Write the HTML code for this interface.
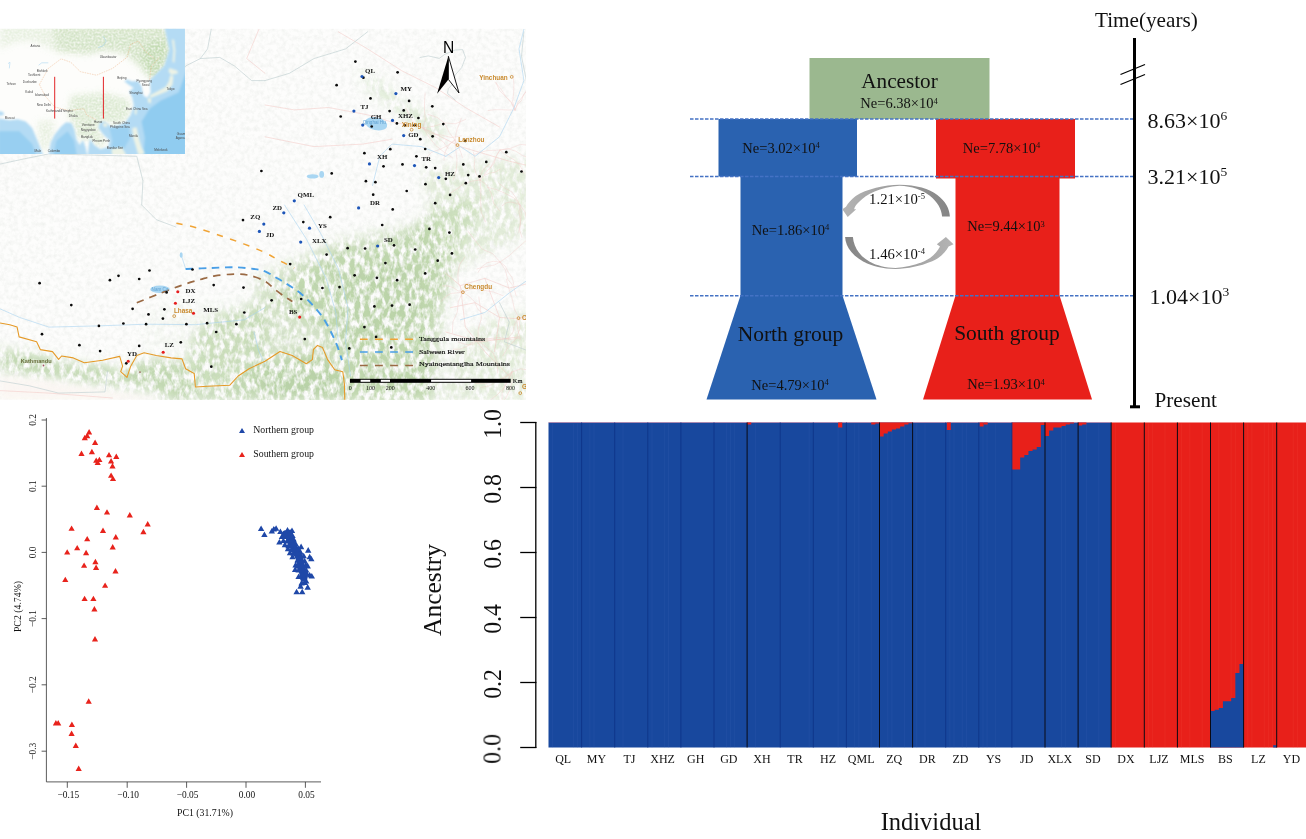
<!DOCTYPE html>
<html lang="en"><head><meta charset="utf-8"><title>Population structure figure</title>
<style>
html,body{margin:0;padding:0;background:#fff;}
body{width:1306px;height:839px;overflow:hidden;font-family:"Liberation Serif",serif;}
svg{display:block}
text{font-family:"Liberation Serif",serif;fill:#111;}
.sans{font-family:"Liberation Sans",sans-serif;}
</style></head><body>
<svg width="1306" height="839" viewBox="0 0 1306 839">
<rect width="1306" height="839" fill="#ffffff"/>
<!-- ===== sampling map ===== -->
<defs>
<filter id="b6" x="-20%" y="-20%" width="140%" height="140%"><feGaussianBlur stdDeviation="6"/></filter>
<filter id="b3" x="-20%" y="-20%" width="140%" height="140%"><feGaussianBlur stdDeviation="3"/></filter>
<filter id="b1" x="-20%" y="-20%" width="140%" height="140%"><feGaussianBlur stdDeviation="1.2"/></filter>
<filter id="mottle" x="0" y="0" width="100%" height="100%">
  <feTurbulence type="fractalNoise" baseFrequency="0.2 0.11" numOctaves="3" seed="7" result="n"/>
  <feColorMatrix in="n" type="matrix" values="0 0 0 0 1  0 0 0 0 1  0 0 0 0 1  3.4 0 0 0 -1.3" result="w"/>
  <feComposite in="SourceGraphic" in2="w" operator="out"/>
</filter>
<filter id="mottle2" x="0" y="0" width="100%" height="100%">
  <feTurbulence type="fractalNoise" baseFrequency="0.5" numOctaves="2" seed="11" result="n"/>
  <feColorMatrix in="n" type="matrix" values="0 0 0 0 1  0 0 0 0 1  0 0 0 0 1  1.6 0 0 0 -0.55" result="w"/>
  <feComposite in="SourceGraphic" in2="w" operator="out"/>
</filter>
<filter id="grain" x="0" y="0" width="100%" height="100%">
  <feTurbulence type="fractalNoise" baseFrequency="0.22" numOctaves="4" seed="3" result="n"/>
  <feColorMatrix in="n" type="matrix" values="0 0 0 0 0.45  0 0 0 0 0.5  0 0 0 0 0.45  0 0 0 1.1 -0.42"/>
</filter>
<clipPath id="mapclip"><rect x="0" y="28.8" width="526" height="371"/></clipPath>
<clipPath id="insclip"><rect x="0" y="28.8" width="185" height="125.2"/></clipPath>
</defs>
<g id="map" clip-path="url(#mapclip)">
<rect x="0" y="28.8" width="526" height="371" fill="#fdfdfc"/>
<g filter="url(#mottle)">
<g filter="url(#b6)" fill="#b9d4a6">
<polygon opacity="0.85" points="0.0,349.1 19.5,351.6 39.1,354.0 58.6,361.3 83.0,365.0 105.0,363.8 122.1,373.5 136.8,361.3 156.3,358.9 180.8,361.3 195.4,376.0 195.4,390.6 219.8,388.2 239.4,378.4 265.0,363.8 265.0,363.8 294.3,354.0 313.9,351.6 328.5,351.6 345.6,376.0 345.6,400.4 265.0,400.4 265.0,400.4 171.0,400.4 146.6,390.6 109.9,385.8 73.3,380.9 36.6,376.0 0.0,371.1"/>
<polygon opacity="0.8" points="285.0,285.0 314.0,263.0 345.0,247.0 383.0,243.0 410.0,232.0 425.0,215.0 440.0,205.0 481.0,200.0 470.0,228.0 458.0,255.0 447.0,285.0 437.0,315.0 431.0,340.0 430.0,402.0 345.0,402.0 340.0,360.0 325.0,330.0 302.0,318.0 280.0,310.0"/>
<polygon opacity="0.55" points="255.2,278.3 289.4,261.2 338.3,239.2 436.0,219.7 460.4,241.6 445.8,307.6 436.0,400.4 255.2,400.4"/>
<polygon opacity="0.75" points="195.4,332.0 214.9,314.9 244.3,307.6 265.0,302.7 265.0,371.1 244.3,376.0 229.6,385.8 195.4,387.0 193.0,373.5 185.6,361.3"/>
<polygon opacity="0.55" points="345.6,278.3 392.0,261.2 421.3,268.5 421.3,307.6 401.8,341.8 367.6,366.2 352.9,332.0"/>
<polygon opacity="0.7" points="265.0,361.3 345.6,376.0 345.6,400.4 265.0,400.4"/>
</g>
<g filter="url(#b6)" fill="#cfe2c0">
<polygon opacity="0.55" points="421.3,171.0 450.6,166.1 530.0,156.3 530.0,204.9 436.0,204.9 436.0,205.0 530.0,205.0 530.0,234.3 484.8,253.9 455.5,268.5 440.9,253.9"/>
<polygon opacity="0.7" points="357.8,68.4 379.8,80.6 401.8,102.6 431.1,114.8 445.8,131.9 436.0,146.6 416.4,127.0 392.0,107.5 367.6,87.9"/>
<polygon opacity="0.55" points="479.9,322.2 530.0,310.0 530.0,400.4 436.0,400.4 455.5,351.6"/>
<polygon opacity="0.12" points="151.4,307.6 265.0,297.8 265.0,361.3 219.8,380.9 185.6,351.6 146.6,351.6"/>
</g>
</g>
<rect x="0" y="28.8" width="526" height="371" filter="url(#grain)" opacity="0.28"/>
<polygon filter="url(#b3)" fill="#fbf6f2" opacity="0.9" points="0.0,376.0 48.9,380.9 102.6,390.6 156.3,398.0 156.3,400.4 0.0,400.4"/>
<g fill="none" stroke-linecap="round" stroke-linejoin="round">
<g stroke="#f3c9c6" stroke-width="0.6" opacity="0.9">
<polyline points="265.0,105.0 294.3,109.9 328.5,107.5 367.6,114.8 392.0,122.1 421.3,127.0 460.4,146.6 509.3,161.2 530.0,166.1"/>
<polyline points="338.3,31.8 367.6,48.9 401.8,70.8 436.0,87.9 465.3,107.5 499.5,127.0"/>
<polyline points="265.0,136.8 313.9,146.6 362.7,144.1 392.0,139.2"/>
<polyline points="445.8,273.4 460.4,285.6 484.8,278.3 509.3,288.0 530.0,283.2"/>
<polyline points="450.6,307.6 475.1,302.7 499.5,317.4 530.0,319.8"/>
<polyline points="460.4,285.6 465.3,327.1 484.8,351.6 509.3,376.0"/>
<polyline points="484.8,278.3 499.5,317.4 494.6,351.6"/>
<polyline points="445.8,332.0 479.9,341.8 519.0,336.9"/>
<polyline points="0.0,390.6 48.9,393.1 112.4,398.0"/>
<polyline points="258.9,29.3 246.7,58.6 265.0,73.3"/>
<polyline opacity="0.8" stroke-width="0.5" points="463.0,292.0 458.4,283.7 457.8,274.2 459.5,264.8 464.9,257.0"/>
<polyline opacity="0.8" stroke-width="0.5" points="463.0,292.0 469.2,296.5 474.7,301.8 477.6,308.9 483.0,314.3"/>
<polyline opacity="0.8" stroke-width="0.5" points="463.0,292.0 456.9,292.9 450.8,293.4 445.5,296.7 441.5,301.3"/>
<polyline opacity="0.8" stroke-width="0.5" points="463.0,292.0 458.3,301.6 457.2,312.2 452.9,322.0 452.4,332.7"/>
<polyline opacity="0.8" stroke-width="0.5" points="463.0,292.0 457.8,290.7 453.4,287.7 448.3,286.0 443.0,285.8"/>
<polyline opacity="0.8" stroke-width="0.5" points="463.0,292.0 472.9,288.7 483.1,290.2 493.4,292.0 503.1,295.7"/>
<polyline opacity="0.8" stroke-width="0.5" points="519.0,318.0 520.0,328.8 516.1,338.9 508.5,346.7 502.7,355.9"/>
<polyline opacity="0.8" stroke-width="0.5" points="519.0,318.0 517.1,323.3 517.6,328.9 519.2,334.3 520.3,339.8"/>
<polyline opacity="0.8" stroke-width="0.5" points="519.0,318.0 528.0,316.7 536.6,313.8 545.6,313.7 554.7,313.4"/>
<polyline opacity="0.8" stroke-width="0.5" points="519.0,318.0 514.5,324.3 513.2,331.9 508.5,338.1 507.1,345.7"/>
<polyline opacity="0.8" stroke-width="0.5" points="519.0,318.0 514.3,309.0 512.3,299.0 509.0,289.3 506.4,279.4"/>
<polyline opacity="0.8" stroke-width="0.5" points="519.0,318.0 523.7,316.8 528.4,317.7 533.2,317.1 537.9,317.8"/>
<polyline opacity="0.8" stroke-width="0.5" points="500.0,262.0 509.0,255.9 517.0,248.5 525.2,241.4 535.0,236.8"/>
<polyline opacity="0.8" stroke-width="0.5" points="500.0,262.0 505.4,269.9 507.6,279.2 513.7,286.5 516.1,295.8"/>
<polyline opacity="0.8" stroke-width="0.5" points="500.0,262.0 505.3,266.3 508.3,272.4 512.3,277.9 513.7,284.5"/>
<polyline opacity="0.8" stroke-width="0.5" points="500.0,262.0 493.4,261.3 487.0,262.8 481.7,266.8 478.1,272.3"/>
<polyline opacity="0.8" stroke-width="0.5" points="500.0,262.0 492.6,253.6 482.2,249.2 475.1,240.5 468.3,231.6"/>
<polyline opacity="0.8" stroke-width="0.5" points="500.0,262.0 494.6,264.9 488.6,266.0 482.7,267.3 476.8,269.0"/>
<polyline opacity="0.8" stroke-width="0.5" points="478.0,340.0 488.6,338.8 499.2,337.4 509.7,339.7 520.2,338.1"/>
<polyline opacity="0.8" stroke-width="0.5" points="478.0,340.0 478.2,329.1 481.4,318.7 480.4,307.8 478.8,297.0"/>
<polyline opacity="0.8" stroke-width="0.5" points="478.0,340.0 485.6,346.8 493.5,353.3 497.3,362.7 497.7,372.9"/>
<polyline opacity="0.8" stroke-width="0.5" points="478.0,340.0 485.5,338.8 493.0,339.3 500.6,339.6 508.0,338.4"/>
<polyline opacity="0.8" stroke-width="0.5" points="478.0,340.0 473.9,343.7 468.6,345.0 463.2,343.7 458.1,341.9"/>
<polyline opacity="0.8" stroke-width="0.5" points="478.0,340.0 471.8,342.7 466.4,346.8 460.0,349.2 453.2,349.2"/>
<polyline opacity="0.8" stroke-width="0.5" points="512.0,372.0 503.9,377.5 494.9,381.3 485.3,383.7 475.5,383.4"/>
<polyline opacity="0.8" stroke-width="0.5" points="512.0,372.0 507.6,380.2 503.3,388.4 497.0,395.1 489.6,400.6"/>
<polyline opacity="0.8" stroke-width="0.5" points="512.0,372.0 507.5,381.9 502.2,391.4 502.0,402.3 501.3,413.2"/>
<polyline opacity="0.8" stroke-width="0.5" points="512.0,372.0 512.3,381.0 509.8,389.7 506.0,397.9 500.0,404.6"/>
<polyline opacity="0.8" stroke-width="0.5" points="512.0,372.0 505.3,377.8 497.2,381.2 489.6,385.7 480.9,387.5"/>
<polyline opacity="0.8" stroke-width="0.5" points="512.0,372.0 520.6,368.9 529.7,370.0 538.8,371.2 547.8,372.7"/>
<polyline opacity="0.8" stroke-width="0.5" points="455.0,140.0 455.9,150.1 457.0,160.2 456.2,170.3 453.2,180.0"/>
<polyline opacity="0.8" stroke-width="0.5" points="455.0,140.0 455.9,134.4 457.2,128.9 459.4,123.7 461.2,118.3"/>
<polyline opacity="0.8" stroke-width="0.5" points="455.0,140.0 449.1,132.3 445.0,123.5 437.3,117.5 428.1,114.4"/>
<polyline opacity="0.8" stroke-width="0.5" points="455.0,140.0 447.9,145.4 440.0,149.4 431.6,152.3 425.4,158.6"/>
<polyline opacity="0.8" stroke-width="0.5" points="455.0,140.0 450.1,143.5 446.8,148.6 444.5,154.1 444.0,160.1"/>
<polyline opacity="0.8" stroke-width="0.5" points="455.0,140.0 456.8,144.4 459.1,148.5 461.0,152.9 462.4,157.4"/>
<polyline opacity="0.8" stroke-width="0.5" points="423.0,128.0 428.8,136.9 435.4,145.2 443.6,151.8 452.4,157.7"/>
<polyline opacity="0.8" stroke-width="0.5" points="423.0,128.0 431.4,133.7 441.4,135.0 451.2,137.5 461.2,135.9"/>
<polyline opacity="0.8" stroke-width="0.5" points="423.0,128.0 416.7,125.6 412.0,120.6 409.2,114.4 405.9,108.5"/>
<polyline opacity="0.8" stroke-width="0.5" points="423.0,128.0 425.3,119.5 424.5,110.7 424.5,101.8 425.1,93.0"/>
<polyline opacity="0.8" stroke-width="0.5" points="423.0,128.0 433.9,126.2 444.4,122.9 455.4,123.8 465.5,119.4"/>
<polyline opacity="0.8" stroke-width="0.5" points="423.0,128.0 428.8,133.9 436.4,137.4 443.4,141.9 448.2,148.7"/>
<polyline opacity="0.8" stroke-width="0.5" points="500.0,150.0 496.3,156.4 494.1,163.5 488.9,168.8 484.3,174.6"/>
<polyline opacity="0.8" stroke-width="0.5" points="500.0,150.0 510.6,148.4 520.4,144.4 531.0,145.4 541.7,146.3"/>
<polyline opacity="0.8" stroke-width="0.5" points="500.0,150.0 493.4,150.3 486.7,150.7 480.3,152.4 473.9,154.4"/>
<polyline opacity="0.8" stroke-width="0.5" points="500.0,150.0 506.6,155.7 514.2,159.9 520.4,166.0 524.2,173.8"/>
<polyline opacity="0.8" stroke-width="0.5" points="500.0,150.0 508.0,148.8 515.8,151.2 522.6,155.6 530.2,158.1"/>
<polyline opacity="0.8" stroke-width="0.5" points="500.0,150.0 496.9,154.6 494.7,159.7 492.1,164.6 489.5,169.5"/>
<polyline opacity="0.8" stroke-width="0.5" points="515.0,110.0 511.5,102.2 505.4,96.2 501.0,88.8 495.2,82.5"/>
<polyline opacity="0.8" stroke-width="0.5" points="515.0,110.0 508.2,110.0 501.5,109.7 494.7,109.7 488.0,110.6"/>
<polyline opacity="0.8" stroke-width="0.5" points="515.0,110.0 511.0,102.5 505.2,96.3 499.2,90.3 496.1,82.4"/>
<polyline opacity="0.8" stroke-width="0.5" points="515.0,110.0 518.0,102.4 523.1,95.9 527.6,89.1 532.6,82.7"/>
<polyline opacity="0.8" stroke-width="0.5" points="515.0,110.0 512.6,101.6 513.7,92.9 513.9,84.1 513.1,75.4"/>
<polyline opacity="0.8" stroke-width="0.5" points="515.0,110.0 517.5,104.7 521.5,100.5 523.4,95.0 527.0,90.4"/>
<polyline opacity="0.8" stroke-width="0.5" points="480.0,180.0 476.0,173.7 474.0,166.6 475.0,159.2 473.3,152.0"/>
<polyline opacity="0.8" stroke-width="0.5" points="480.0,180.0 471.9,181.1 464.0,183.6 457.5,188.6 450.6,193.0"/>
<polyline opacity="0.8" stroke-width="0.5" points="480.0,180.0 480.6,175.1 482.7,170.6 486.0,166.9 489.9,163.8"/>
<polyline opacity="0.8" stroke-width="0.5" points="480.0,180.0 487.5,185.6 491.5,194.1 493.6,203.2 499.5,210.5"/>
<polyline opacity="0.8" stroke-width="0.5" points="480.0,180.0 484.0,175.5 489.5,173.2 495.4,172.1 500.5,169.0"/>
<polyline opacity="0.8" stroke-width="0.5" points="480.0,180.0 480.9,190.7 480.6,201.4 481.2,212.0 485.4,221.9"/>
<polyline opacity="0.8" stroke-width="0.5" points="520.0,205.0 515.5,203.2 510.9,202.0 506.2,202.8 502.3,205.6"/>
<polyline opacity="0.8" stroke-width="0.5" points="520.0,205.0 513.7,197.8 505.3,193.4 496.6,189.6 487.4,187.4"/>
<polyline opacity="0.8" stroke-width="0.5" points="520.0,205.0 516.2,198.2 511.7,191.8 504.8,188.1 498.8,183.1"/>
<polyline opacity="0.8" stroke-width="0.5" points="520.0,205.0 525.1,212.2 526.8,220.7 528.2,229.4 528.4,238.2"/>
<polyline opacity="0.8" stroke-width="0.5" points="520.0,205.0 521.3,213.1 520.6,221.3 519.7,229.5 521.9,237.4"/>
<polyline opacity="0.8" stroke-width="0.5" points="520.0,205.0 519.0,211.9 520.3,218.8 520.1,225.8 518.8,232.7"/>
</g>
<g stroke="#bfcfd0" stroke-width="0.7" opacity="0.9">
<polyline points="211.3,28.8 207.6,48.9 200.3,58.6 185.6,66.0 180.8,73.3"/>
<polyline points="200.3,58.6 219.8,57.4 234.5,66.0 251.6,80.6 265.0,80.6"/>
<polyline points="0.0,164.1 24.4,158.8 48.9,153.9 136.8,156.3 142.9,180.8 141.7,204.9"/>
<polyline points="141.7,205.0 156.3,219.7 175.9,227.0"/>
<polyline points="265.0,80.6 289.4,73.3 313.9,58.6 345.6,48.9 367.6,31.8"/>
<polyline points="420.0,57.5 428.3,55.9 439.2,58.4 445.0,54.2 455.1,50.0 462.6,49.6 465.5,57.5 461.7,67.6 455.1,75.1 453.4,83.4 448.4,88.4 447.5,93.4 455.1,100.0"/>
<polyline points="523.9,31.8 521.5,56.2 526.4,80.6"/>
<polyline points="0.0,380.9 29.3,385.8 58.6,393.1 105.0,391.9 107.5,371.1"/>
<polyline points="499.5,302.7 509.3,322.2 504.4,341.8 530.0,351.6"/>
</g>
<g stroke="#a9d3f0" stroke-width="0.8">
<polyline opacity="0.75" points="523.9,29.3 519.0,48.9 523.9,80.6 514.1,107.5 499.5,136.8 475.1,156.3 460.4,146.6 445.8,156.3"/>
<polyline opacity="0.75" points="445.8,156.3 421.3,146.6 392.0,144.1 379.8,156.3 372.5,185.6"/>
<polyline opacity="0.75" points="0.0,308.8 19.5,317.4 48.9,327.1 97.7,325.9 146.6,324.2 195.4,324.7 244.3,319.8 265.0,307.6"/>
<polyline opacity="0.75" points="304.1,205.0 321.2,234.3 338.3,268.5 348.0,307.6 345.6,341.8 350.5,376.0"/>
<polyline opacity="0.75" points="284.5,205.0 306.5,239.2 326.1,278.3 335.8,312.5 338.3,341.8"/>
<polyline opacity="0.75" points="180.8,253.9 185.6,268.5"/>
<polyline opacity="0.75" points="530.0,278.3 509.3,292.9 484.8,312.5 460.4,319.8"/>
<polyline opacity="0.75" points="254.0,332.0 258.9,351.6 265.0,363.8"/>
</g>
</g>
<ellipse cx="376.1" cy="123.8" rx="11.2" ry="6.4" fill="#a9d6f2" transform="rotate(12 376.1 123.8)"/>
<ellipse cx="312.6" cy="176.4" rx="5.9" ry="2.2" fill="#a9d6f2"/>
<ellipse cx="321.7" cy="174.4" rx="2.4" ry="3.4" fill="#a9d6f2"/>
<ellipse cx="160.0" cy="289.3" rx="9.8" ry="3.7" fill="#a9d6f2"/>
<ellipse cx="181.2" cy="255.1" rx="1.5" ry="2.9" fill="#a9d6f2"/>
<polyline fill="none" stroke="#e59a28" stroke-width="1.1" stroke-linejoin="round" points="0.0,323.0 9.8,324.7 17.1,327.1 19.1,336.9 36.6,341.8 40.3,349.6 52.5,351.6 58.6,359.4 61.6,356.0 73.3,357.9 84.3,362.8 102.6,360.3 119.7,356.4 122.6,366.2 120.7,371.6 127.0,377.4 130.7,366.2 136.8,355.5 144.1,352.8 156.3,355.5 171.0,357.9 182.0,358.9 185.6,368.7 194.2,373.5 195.4,387.0 207.6,386.2 229.6,385.3 238.2,376.0 249.1,368.7 265.0,361.3 280.0,351.5 292.2,355.6 306.3,363.7 312.4,359.6 313.4,349.5 317.5,345.4 322.5,347.5 327.6,359.6 334.7,369.7 342.8,371.8 344.4,383.9 344.8,401.0"/>
<path d="M176.4,223.3C179.5,224.0 188.2,225.4 195.4,227.5C202.7,229.5 211.7,232.8 219.8,235.5C228.0,238.3 236.7,241.2 244.3,244.1C251.8,246.9 259.1,249.9 265.0,252.6C270.9,255.4 274.8,258.1 279.7,260.7C284.5,263.3 291.9,266.8 294.3,268.0" fill="none" stroke="#f0a436" stroke-width="1.5" stroke-dasharray="6.4 7.6"/>
<path d="M185.6,269.0C189.7,268.8 201.9,268.3 210.1,268.0C218.2,267.7 227.2,267.1 234.5,267.3C241.8,267.4 248.9,268.3 254.0,269.0C259.1,269.7 261.2,269.9 265.0,271.4C268.9,273.0 273.1,275.9 277.2,278.3C281.3,280.6 285.4,283.0 289.4,285.6C293.5,288.3 297.6,290.7 301.6,294.2C305.7,297.6 310.2,302.3 313.9,306.4C317.5,310.4 320.8,314.3 323.6,318.6C326.5,322.9 328.7,327.5 331.0,332.0C333.2,336.5 335.2,340.8 337.1,345.4C338.9,350.1 341.1,357.7 341.9,360.1" fill="none" stroke="#4a9fe6" stroke-width="1.9" stroke-dasharray="7.5 5.6"/>
<path d="M136.8,302.7C140.0,301.4 149.0,297.7 156.3,294.9C163.7,292.0 173.4,288.2 180.8,285.6C188.1,283.0 194.6,281.1 200.3,279.5C206.0,277.9 209.2,276.7 214.9,275.8C220.6,274.9 228.8,274.2 234.5,274.1C240.2,274.0 244.1,274.2 249.1,275.3C254.2,276.5 260.8,278.9 265.0,281.2C269.3,283.5 271.5,286.7 274.8,289.3C278.0,291.8 281.6,294.6 284.5,296.6C287.5,298.6 291.1,300.7 292.4,301.5" fill="none" stroke="#9a6a44" stroke-width="1.7" stroke-dasharray="7.5 6"/>
<g fill="#0a0a0a"><circle cx="261.4" cy="171.0" r="1.35"/><circle cx="355.4" cy="61.6" r="1.35"/><circle cx="397.6" cy="72.3" r="1.35"/><circle cx="336.6" cy="85.2" r="1.35"/><circle cx="363.4" cy="77.7" r="1.35"/><circle cx="370.5" cy="98.4" r="1.35"/><circle cx="409.1" cy="100.9" r="1.35"/><circle cx="432.3" cy="106.3" r="1.35"/><circle cx="389.6" cy="111.1" r="1.35"/><circle cx="403.7" cy="110.4" r="1.35"/><circle cx="340.7" cy="116.5" r="1.35"/><circle cx="418.4" cy="118.0" r="1.35"/><circle cx="396.9" cy="123.4" r="1.35"/><circle cx="443.3" cy="124.1" r="1.35"/><circle cx="371.7" cy="126.5" r="1.35"/><circle cx="404.7" cy="125.3" r="1.35"/><circle cx="414.5" cy="125.3" r="1.35"/><circle cx="420.3" cy="139.2" r="1.35"/><circle cx="432.6" cy="136.3" r="1.35"/><circle cx="465.3" cy="140.9" r="1.35"/><circle cx="390.3" cy="149.2" r="1.35"/><circle cx="425.2" cy="149.0" r="1.35"/><circle cx="364.4" cy="153.2" r="1.35"/><circle cx="416.4" cy="156.3" r="1.35"/><circle cx="506.3" cy="152.2" r="1.35"/><circle cx="486.3" cy="161.9" r="1.35"/><circle cx="383.5" cy="166.3" r="1.35"/><circle cx="402.5" cy="164.4" r="1.35"/><circle cx="426.2" cy="167.3" r="1.35"/><circle cx="435.2" cy="168.1" r="1.35"/><circle cx="463.3" cy="164.4" r="1.35"/><circle cx="331.7" cy="173.4" r="1.35"/><circle cx="468.2" cy="175.1" r="1.35"/><circle cx="479.5" cy="176.4" r="1.35"/><circle cx="521.5" cy="171.5" r="1.35"/><circle cx="445.8" cy="178.8" r="1.35"/><circle cx="365.9" cy="181.2" r="1.35"/><circle cx="375.4" cy="182.2" r="1.35"/><circle cx="465.8" cy="183.2" r="1.35"/><circle cx="425.5" cy="184.2" r="1.35"/><circle cx="406.7" cy="191.0" r="1.35"/><circle cx="373.2" cy="194.7" r="1.35"/><circle cx="450.1" cy="194.9" r="1.35"/><circle cx="435.2" cy="203.2" r="1.35"/><circle cx="39.6" cy="283.2" r="1.35"/><circle cx="71.3" cy="305.1" r="1.35"/><circle cx="109.9" cy="280.2" r="1.35"/><circle cx="118.5" cy="275.8" r="1.35"/><circle cx="139.2" cy="279.0" r="1.35"/><circle cx="149.5" cy="270.5" r="1.35"/><circle cx="192.5" cy="269.5" r="1.35"/><circle cx="213.7" cy="285.1" r="1.35"/><circle cx="243.5" cy="287.6" r="1.35"/><circle cx="243.0" cy="220.1" r="1.35"/><circle cx="132.6" cy="308.8" r="1.35"/><circle cx="148.5" cy="314.4" r="1.35"/><circle cx="164.4" cy="309.3" r="1.35"/><circle cx="162.9" cy="318.6" r="1.35"/><circle cx="98.9" cy="325.9" r="1.35"/><circle cx="123.4" cy="323.5" r="1.35"/><circle cx="146.1" cy="324.2" r="1.35"/><circle cx="186.4" cy="324.2" r="1.35"/><circle cx="207.1" cy="323.2" r="1.35"/><circle cx="236.4" cy="324.2" r="1.35"/><circle cx="244.3" cy="312.5" r="1.35"/><circle cx="216.2" cy="332.0" r="1.35"/><circle cx="42.0" cy="334.2" r="1.35"/><circle cx="79.4" cy="345.2" r="1.35"/><circle cx="100.1" cy="351.1" r="1.35"/><circle cx="139.2" cy="345.9" r="1.35"/><circle cx="180.8" cy="342.3" r="1.35"/><circle cx="126.3" cy="363.3" r="1.35"/><circle cx="211.3" cy="366.7" r="1.35"/><circle cx="166.6" cy="292.4" r="1.35"/><circle cx="392.7" cy="209.4" r="1.35"/><circle cx="330.2" cy="217.2" r="1.35"/><circle cx="303.3" cy="222.1" r="1.35"/><circle cx="382.2" cy="225.0" r="1.35"/><circle cx="429.4" cy="228.9" r="1.35"/><circle cx="449.4" cy="232.6" r="1.35"/><circle cx="394.0" cy="245.3" r="1.35"/><circle cx="347.6" cy="248.2" r="1.35"/><circle cx="365.1" cy="248.5" r="1.35"/><circle cx="415.2" cy="249.5" r="1.35"/><circle cx="451.9" cy="253.4" r="1.35"/><circle cx="326.6" cy="254.6" r="1.35"/><circle cx="437.7" cy="260.7" r="1.35"/><circle cx="385.4" cy="263.1" r="1.35"/><circle cx="290.2" cy="264.1" r="1.35"/><circle cx="354.6" cy="275.3" r="1.35"/><circle cx="376.9" cy="277.8" r="1.35"/><circle cx="397.1" cy="280.2" r="1.35"/><circle cx="425.2" cy="273.4" r="1.35"/><circle cx="322.4" cy="288.0" r="1.35"/><circle cx="339.5" cy="287.1" r="1.35"/><circle cx="271.6" cy="300.3" r="1.35"/><circle cx="301.2" cy="299.0" r="1.35"/><circle cx="374.4" cy="306.4" r="1.35"/><circle cx="392.0" cy="305.6" r="1.35"/><circle cx="409.6" cy="304.7" r="1.35"/><circle cx="364.4" cy="327.1" r="1.35"/><circle cx="376.1" cy="336.9" r="1.35"/><circle cx="304.8" cy="339.1" r="1.35"/><circle cx="349.3" cy="348.4" r="1.35"/><circle cx="391.3" cy="347.4" r="1.35"/></g>
<g fill="#1d55b8"><circle cx="362.0" cy="76.5" r="1.6"/><circle cx="395.9" cy="93.6" r="1.6"/><circle cx="353.9" cy="111.1" r="1.6"/><circle cx="362.7" cy="125.1" r="1.6"/><circle cx="392.5" cy="120.4" r="1.6"/><circle cx="403.7" cy="135.6" r="1.6"/><circle cx="369.5" cy="163.9" r="1.6"/><circle cx="414.5" cy="165.6" r="1.6"/><circle cx="438.7" cy="177.6" r="1.6"/><circle cx="294.3" cy="200.8" r="1.6"/><circle cx="283.8" cy="212.8" r="1.6"/><circle cx="309.5" cy="228.2" r="1.6"/><circle cx="300.7" cy="242.1" r="1.6"/><circle cx="377.6" cy="246.0" r="1.6"/><circle cx="358.6" cy="207.9" r="1.6"/><circle cx="259.4" cy="231.4" r="1.6"/><circle cx="263.8" cy="224.1" r="1.6"/></g>
<g fill="#e61e1e"><circle cx="177.8" cy="291.7" r="1.55"/><circle cx="175.4" cy="303.2" r="1.55"/><circle cx="193.5" cy="313.2" r="1.55"/><circle cx="163.2" cy="352.3" r="1.55"/><circle cx="128.2" cy="361.3" r="1.55"/><circle cx="299.7" cy="317.1" r="1.55"/></g>
<g font-size="6.9" text-anchor="middle" fill="#000" font-weight="bold">
<text x="370.0" y="72.8">QL</text>
<text x="406.2" y="90.9">MY</text>
<text x="364.4" y="108.9">TJ</text>
<text x="376.1" y="119.4">GH</text>
<text x="405.4" y="117.5">XHZ</text>
<text x="413.3" y="137.0">GD</text>
<text x="382.2" y="158.5">XH</text>
<text x="426.2" y="161.0">TR</text>
<text x="449.9" y="175.6">HZ</text>
<text x="305.8" y="196.9">QML</text>
<text x="374.9" y="204.7">DR</text>
<text x="190.5" y="293.2">DX</text>
<text x="188.8" y="302.9">LJZ</text>
<text x="210.6" y="311.7">MLS</text>
<text x="169.3" y="346.9">LZ</text>
<text x="131.9" y="356.2">YD</text>
<text x="255.3" y="219.4">ZQ</text>
<text x="322.4" y="228.0">YS</text>
<text x="319.2" y="243.1">XLX</text>
<text x="388.4" y="241.9">SD</text>
<text x="269.9" y="236.5">JD</text>
<text x="293.1" y="313.9">BS</text>
<text x="277.2" y="209.6">ZD</text>
</g>
<text class="sans" x="493.4" y="80.4" font-size="6.4" font-weight="bold" text-anchor="middle" style="fill:#c98a2e">Yinchuan</text><circle cx="511.7" cy="76.9" r="1.4" fill="none" stroke="#c98a2e" stroke-width="0.8"/>
<text class="sans" x="411.6" y="126.5" font-size="6.4" font-weight="bold" text-anchor="middle" style="fill:#c98a2e">Xining</text><circle cx="411.6" cy="129.7" r="1.4" fill="none" stroke="#c98a2e" stroke-width="0.8"/>
<text class="sans" x="471.4" y="141.9" font-size="6.4" font-weight="bold" text-anchor="middle" style="fill:#c98a2e">Lanzhou</text><circle cx="457.5" cy="145.1" r="1.4" fill="none" stroke="#c98a2e" stroke-width="0.8"/>
<text class="sans" x="478.2" y="288.8" font-size="6.4" font-weight="bold" text-anchor="middle" style="fill:#c98a2e">Chengdu</text><circle cx="462.9" cy="292.2" r="1.4" fill="none" stroke="#c98a2e" stroke-width="0.8"/>
<text class="sans" x="183.2" y="312.7" font-size="6.4" font-weight="bold" text-anchor="middle" style="fill:#c98a2e">Lhasa</text><circle cx="174.2" cy="316.1" r="1.4" fill="none" stroke="#c98a2e" stroke-width="0.8"/>
<text class="sans" x="524.4" y="320.3" font-size="6.4" font-weight="bold" text-anchor="middle" style="fill:#c98a2e">C</text><circle cx="518.5" cy="318.1" r="1.4" fill="none" stroke="#c98a2e" stroke-width="0.8"/>
<text class="sans" x="524.4" y="388.7" font-size="6.4" font-weight="bold" text-anchor="middle" style="fill:#c98a2e">G</text><circle cx="520.3" cy="393.1" r="1.4" fill="none" stroke="#c98a2e" stroke-width="0.8"/>
<text class="sans" x="36.2" y="363.0" font-size="5.6" font-weight="bold" text-anchor="middle" style="fill:#6b7040">Kathmandu</text>
<circle cx="43.5" cy="365.5" r="0.9" fill="#a05060"/>
<circle cx="140.0" cy="372.1" r="0.9" fill="#9a6a60"/>
<text class="sans" x="374.2" y="124.3" font-size="4.6" text-anchor="middle" style="fill:#5c9fd0">Qinghai Hu</text>
<text class="sans" x="160.0" y="290.5" font-size="4.6" text-anchor="middle" style="fill:#5c9fd0">Nam Co</text>
<text class="sans" x="448.6" y="52.6" font-size="15.6" text-anchor="middle" style="fill:#000">N</text>
<polygon points="448.4,56.3 437.1,93.8 448.4,79.4" fill="#000"/>
<polygon points="448.4,56.3 459,93 448.4,79.4" fill="#fff" stroke="#000" stroke-width="0.9" stroke-linejoin="miter"/>
<line x1="359.9" y1="339.2" x2="413" y2="339.2" stroke="#f0a436" stroke-width="1.5" stroke-dasharray="7.8 7.3"/>
<line x1="359.9" y1="351.9" x2="413" y2="351.9" stroke="#4a9fe6" stroke-width="1.5" stroke-dasharray="7.8 7.3"/>
<line x1="359.9" y1="365.4" x2="413" y2="365.4" stroke="#9a6a44" stroke-width="1.5" stroke-dasharray="7.8 7.3"/>
<g font-size="7" fill="#111" stroke="#111" stroke-width="0.18">
<text x="418.9" y="340.7" textLength="66.3" lengthAdjust="spacingAndGlyphs">Tanggula mountains</text>
<text x="418.9" y="354" textLength="45.8" lengthAdjust="spacingAndGlyphs">Salween River</text>
<text x="418.9" y="366.2" textLength="91.1" lengthAdjust="spacingAndGlyphs">Nyainqentanglha Mountains</text>
</g>
<rect x="350" y="378.8" width="160.7" height="4" fill="#000"/>
<rect x="360.6" y="379.8" width="9.6" height="2" fill="#fff"/>
<rect x="380.8" y="379.8" width="9.2" height="2" fill="#fff"/>
<rect x="431.1" y="379.8" width="40.0" height="2" fill="#fff"/>
<g font-size="6" text-anchor="middle" fill="#111">
<text x="350.3" y="389.5">0</text>
<text x="370.5" y="389.5">100</text>
<text x="390.3" y="389.5">200</text>
<text x="430.7" y="389.5">400</text>
<text x="470" y="389.5">600</text>
<text x="510.5" y="389.5">800</text>
<text x="517.6" y="382.6" font-size="6.4" stroke="#111" stroke-width="0.15">Km</text>
</g>
</g>
<!-- ===== inset overview map ===== -->
<g id="inset" clip-path="url(#insclip)">
<rect x="0" y="28.5" width="185" height="125.3" fill="#fdfdfb"/>
<g filter="url(#mottle2)">
<g filter="url(#b3)" fill="#c3dab2">
<polygon opacity="0.7" points="53.1,25.0 165.7,25.0 168.9,41.1 169.7,57.2 160.9,71.7 152.8,79.7 144.8,73.3 138.4,65.2 128.7,57.2 119.0,52.3 103.0,50.7 86.9,54.8 70.8,53.2 56.3,51.5"/>
<polygon opacity="0.35" points="0.0,25.0 53.1,25.0 56.3,51.5 32.2,41.1 16.1,41.9 0.0,49.1"/>
<polygon opacity="0.9" points="144.8,44.3 167.3,37.9 168.9,57.2 160.9,71.7 152.8,79.7 148.0,73.3 141.6,60.4"/>
<polygon opacity="0.55" points="70.8,95.8 103.0,92.6 128.7,99.0 130.3,115.1 119.0,124.7 104.6,121.5 96.5,128.0 106.2,140.8 99.7,148.9 90.1,137.6 83.7,140.8 77.2,137.6 74.0,124.7 67.6,115.1"/>
<polygon opacity="0.35" points="37.0,121.5 54.7,119.9 53.1,136.0 46.7,152.1 40.2,147.3"/>
</g></g>
<g filter="url(#b1)">
<polygon fill="#b4dbf4" points="164.1,25.0 186.6,25.0 186.6,156.9 87.7,156.9 88.5,147.3 90.1,138.4 94.1,144.9 100.5,149.2 108.1,146.9 109.7,140.8 103.3,134.4 98.5,128.0 100.1,121.8 104.9,121.8 111.3,126.7 119.4,125.1 125.8,121.8 130.6,115.1 133.8,105.4 132.2,97.4 129.0,91.3 133.8,88.1 128.7,84.8 124.2,81.3 127.1,79.4 132.2,81.6 138.0,80.8 141.6,86.5 143.5,95.8 147.4,97.7 150.6,92.6 149.9,80.0 154.8,75.2 164.4,65.5 169.2,49.5 165.7,33.0"/>
<polygon fill="#8ccaf0" opacity="0.9" points="186.6,70.0 178.6,92.6 160.9,100.6 149.6,108.7 141.6,121.5 144.8,137.6 143.2,156.9 186.6,156.9"/>
<polygon fill="#8ccaf0" opacity="0.6" points="109.4,128.0 128.7,126.4 130.3,137.6 122.3,152.1 111.0,152.1 112.6,140.8"/>
<polygon fill="#b4dbf4" points="48.3,156.9 50.7,142.4 54.7,134.4 61.1,126.4 66.0,122.3 71.6,123.1 74.3,129.6 76.4,139.2 79.6,144.9 82.9,140.0 85.6,147.3 87.7,156.9"/>
<polygon fill="#8ccaf0" opacity="0.7" points="53.1,156.9 56.3,140.8 67.6,131.2 74.0,140.8 77.2,156.9"/>
<polygon fill="#b4dbf4" points="-1.6,118.3 9.7,120.2 17.7,119.3 25.7,121.5 32.2,128.0 36.2,137.6 40.2,147.3 43.8,156.9 -1.6,156.9"/>
<polygon fill="#8ccaf0" opacity="0.7" points="-1.6,131.2 19.3,131.2 32.2,144.0 37.0,156.9 -1.6,156.9"/>
<polygon fill="#b4dbf4" points="-1.6,111.1 3.2,111.9 4.0,115.1 -1.6,115.9"/>
</g>
<g filter="url(#b1)" fill="#edf3e6">
<polygon points="171.8,39.5 174.1,39.8 175.4,50.7 174.4,62.8 172.5,62.0 173.4,50.7"/>
<polygon points="169.2,68.1 177.0,70.4 178.2,73.3 171.5,74.9 168.6,71.7"/>
<polygon points="170.2,75.2 173.4,76.2 172.5,84.8 167.3,91.3 159.3,94.5 151.2,97.7 148.8,95.8 157.7,91.3 165.7,86.8 168.9,81.3"/>
<polygon points="147.7,97.7 151.2,98.4 150.9,103.2 148.0,102.5"/>
<polygon points="134.8,108.7 137.1,109.0 136.4,115.1 134.5,113.8"/>
<polygon points="103.0,123.1 107.5,123.5 106.8,127.0 103.3,126.4"/>
<polygon points="132.2,128.0 136.7,127.3 138.7,137.6 141.6,147.3 144.8,153.7 138.4,155.3 136.1,147.3 133.2,137.6"/>
<polygon points="111.0,148.9 122.3,147.3 127.1,156.9 112.6,156.9"/>
</g>
<g fill="none" stroke="#eeb184" stroke-width="0.45" stroke-dasharray="1.6 0.9">
<polyline points="39.4,84.5 48.3,68.4 61.1,58.8 70.8,62.3 80.4,71.7 96.5,75.2 112.6,68.4 127.1,57.2 130.6,44.3 138.4,41.1 144.8,50.7 154.4,58.8"/>
<polyline points="39.4,84.5 45.0,95.8 54.7,107.0 69.2,110.6 83.7,108.7 86.9,115.1 96.5,119.9"/>
<polyline points="149.6,79.7 151.2,66.8 159.3,57.2"/>
</g>
<polyline fill="none" stroke="#9fd0f0" stroke-width="0.5" points="103.0,36.3 106.2,41.1 103.0,45.9 98.1,47.5"/>
<polyline fill="none" stroke="#9fd0f0" stroke-width="0.5" points="38.6,65.2 41.8,62.8 48.3,62.8"/>
<polyline fill="none" stroke="#9fd0f0" stroke-width="0.5" points="8.0,63.6 10.0,62.3 9.3,68.4"/>
<line x1="54.7" y1="76.8" x2="54.7" y2="118.6" stroke="#e01a1e" stroke-width="0.95"/>
<line x1="103.4" y1="76.8" x2="103.4" y2="118.6" stroke="#e01a1e" stroke-width="0.95"/>
<g class="sans" font-size="3.1" text-anchor="middle" style="fill:#444">
<text class="sans" x="35.4" y="47.2" style="fill:#4a4a4a">Astana</text>
<text class="sans" x="108.1" y="57.7" style="fill:#4a4a4a">Ulaanbaatar</text>
<text class="sans" x="121.8" y="78.6" style="fill:#4a4a4a">Beijing</text>
<text class="sans" x="144.3" y="81.8" style="fill:#4a4a4a">Pyongyang</text>
<text class="sans" x="145.6" y="85.5" style="fill:#4a4a4a">Seoul</text>
<text class="sans" x="135.9" y="93.9" style="fill:#4a4a4a">Shanghai</text>
<text class="sans" x="11.3" y="84.5" style="fill:#4a4a4a">Tehran</text>
<text class="sans" x="34.1" y="75.7" style="fill:#4a4a4a">Tashkent</text>
<text class="sans" x="42.1" y="71.7" style="fill:#4a4a4a">Bishkek</text>
<text class="sans" x="29.8" y="82.6" style="fill:#4a4a4a">Dushanbe</text>
<text class="sans" x="29.3" y="92.6" style="fill:#4a4a4a">Kabul</text>
<text class="sans" x="41.8" y="95.8" style="fill:#4a4a4a">Islamabad</text>
<text class="sans" x="43.8" y="106.4" style="fill:#4a4a4a">New Delhi</text>
<text class="sans" x="53.9" y="111.6" style="fill:#4a4a4a">Kathmandu</text>
<text class="sans" x="66.8" y="111.6" style="fill:#4a4a4a">Thimphu</text>
<text class="sans" x="73.2" y="116.7" style="fill:#4a4a4a">Dhaka</text>
<text class="sans" x="98.1" y="122.5" style="fill:#4a4a4a">Hanoi</text>
<text class="sans" x="88.2" y="125.5" style="fill:#4a4a4a">Vientiane</text>
<text class="sans" x="88.2" y="130.7" style="fill:#4a4a4a">Naypyidaw</text>
<text class="sans" x="86.9" y="137.6" style="fill:#4a4a4a">Bangkok</text>
<text class="sans" x="101.4" y="142.4" style="fill:#4a4a4a">Phnom Penh</text>
<text class="sans" x="133.5" y="136.5" style="fill:#4a4a4a">Manila</text>
<text class="sans" x="136.7" y="110.4" style="fill:#4a4a4a">East China Sea</text>
<text class="sans" x="121.5" y="124.4" style="fill:#4a4a4a">South China</text>
<text class="sans" x="119.9" y="128.0" style="fill:#4a4a4a">Philippine Sea</text>
<text class="sans" x="115.0" y="148.6" style="fill:#4a4a4a">Bandar Seri</text>
<text class="sans" x="160.9" y="150.5" style="fill:#4a4a4a">Melekeok</text>
<text class="sans" x="181.0" y="134.9" style="fill:#4a4a4a">Guam</text>
<text class="sans" x="180.2" y="138.9" style="fill:#4a4a4a">Agana</text>
<text class="sans" x="9.7" y="119.1" style="fill:#4a4a4a">Muscat</text>
<text class="sans" x="37.8" y="151.8" style="fill:#4a4a4a">Male</text>
<text class="sans" x="53.9" y="151.8" style="fill:#4a4a4a">Colombo</text>
<text class="sans" x="170.5" y="89.7" style="fill:#4a4a4a">Tokyo</text>
</g>
</g>
<!-- ===== PCA scatter ===== -->
<g id="pca">
<path fill="#e8231c" d="M89.1,429.0l3.1,5.4h-6.2zM87.2,432.8l3.1,5.4h-6.2zM84.8,434.8l3.1,5.4h-6.2zM95.1,439.5l3.1,5.4h-6.2zM91.9,448.8l3.1,5.4h-6.2zM81.5,450.6l3.1,5.4h-6.2zM109.0,451.9l3.1,5.4h-6.2zM116.3,453.5l3.1,5.4h-6.2zM96.2,457.4l3.1,5.4h-6.2zM99.4,456.7l3.1,5.4h-6.2zM97.7,459.5l3.1,5.4h-6.2zM111.1,458.1l3.1,5.4h-6.2zM112.5,463.1l3.1,5.4h-6.2zM111.1,472.4l3.1,5.4h-6.2zM113.0,475.7l3.1,5.4h-6.2zM96.9,504.6l3.1,5.4h-6.2zM107.0,509.2l3.1,5.4h-6.2zM129.8,512.0l3.1,5.4h-6.2zM147.7,521.1l3.1,5.4h-6.2zM71.6,525.4l3.1,5.4h-6.2zM103.0,527.5l3.1,5.4h-6.2zM143.4,528.8l3.1,5.4h-6.2zM115.8,534.1l3.1,5.4h-6.2zM87.2,535.9l3.1,5.4h-6.2zM112.7,544.1l3.1,5.4h-6.2zM77.2,544.9l3.1,5.4h-6.2zM67.2,549.2l3.1,5.4h-6.2zM86.1,549.8l3.1,5.4h-6.2zM95.4,558.8l3.1,5.4h-6.2zM84.1,562.4l3.1,5.4h-6.2zM96.1,564.5l3.1,5.4h-6.2zM115.5,568.1l3.1,5.4h-6.2zM65.3,576.7l3.1,5.4h-6.2zM105.1,582.4l3.1,5.4h-6.2zM84.6,595.7l3.1,5.4h-6.2zM93.4,595.7l3.1,5.4h-6.2zM94.4,606.0l3.1,5.4h-6.2zM95.0,636.1l3.1,5.4h-6.2zM88.7,698.3l3.1,5.4h-6.2zM55.9,720.1l3.1,5.4h-6.2zM58.2,720.1l3.1,5.4h-6.2zM71.9,721.6l3.1,5.4h-6.2zM71.6,730.6l3.1,5.4h-6.2zM75.8,742.6l3.1,5.4h-6.2zM78.7,765.5l3.1,5.4h-6.2z"/>
<polyline fill="none" stroke="#1f48a8" stroke-width="7.5" stroke-linecap="round" stroke-linejoin="round" points="285.4,534.2 289.0,536.8 292.5,544.4 296.1,551.5 299.6,558.5 300.6,565.6 302.7,571.7 303.7,577.8"/>
<path fill="#1f48a8" d="M261.1,525.4l3.2,5.6h-6.4zM264.4,531.4l3.2,5.6h-6.4zM271.8,527.9l3.2,5.6h-6.4zM273.8,525.9l3.2,5.6h-6.4zM276.1,525.2l3.2,5.6h-6.4zM280.4,528.4l3.2,5.6h-6.4zM279.4,539.0l3.2,5.6h-6.4zM281.9,533.5l3.2,5.6h-6.4zM284.4,530.4l3.2,5.6h-6.4zM287.5,526.9l3.2,5.6h-6.4zM290.0,528.9l3.2,5.6h-6.4zM292.0,527.4l3.2,5.6h-6.4zM286.5,533.5l3.2,5.6h-6.4zM289.5,532.5l3.2,5.6h-6.4zM292.5,532.5l3.2,5.6h-6.4zM283.4,537.5l3.2,5.6h-6.4zM287.0,538.0l3.2,5.6h-6.4zM290.5,537.0l3.2,5.6h-6.4zM293.5,536.0l3.2,5.6h-6.4zM284.9,541.6l3.2,5.6h-6.4zM288.5,542.6l3.2,5.6h-6.4zM292.0,541.6l3.2,5.6h-6.4zM295.6,540.6l3.2,5.6h-6.4zM301.1,543.6l3.2,5.6h-6.4zM288.0,545.6l3.2,5.6h-6.4zM291.5,546.6l3.2,5.6h-6.4zM295.1,545.6l3.2,5.6h-6.4zM298.6,545.6l3.2,5.6h-6.4zM290.0,549.7l3.2,5.6h-6.4zM293.5,550.2l3.2,5.6h-6.4zM297.1,549.7l3.2,5.6h-6.4zM300.6,549.2l3.2,5.6h-6.4zM292.5,553.7l3.2,5.6h-6.4zM300.6,553.7l3.2,5.6h-6.4zM303.7,552.7l3.2,5.6h-6.4zM308.2,547.1l3.2,5.6h-6.4zM309.7,553.7l3.2,5.6h-6.4zM311.3,555.7l3.2,5.6h-6.4zM297.6,556.8l3.2,5.6h-6.4zM301.6,557.8l3.2,5.6h-6.4zM304.7,557.8l3.2,5.6h-6.4zM295.6,561.8l3.2,5.6h-6.4zM298.6,562.8l3.2,5.6h-6.4zM302.2,562.3l3.2,5.6h-6.4zM305.7,561.8l3.2,5.6h-6.4zM307.7,562.8l3.2,5.6h-6.4zM295.1,566.4l3.2,5.6h-6.4zM298.6,566.9l3.2,5.6h-6.4zM302.7,566.4l3.2,5.6h-6.4zM306.2,566.9l3.2,5.6h-6.4zM298.6,573.5l3.2,5.6h-6.4zM302.7,571.9l3.2,5.6h-6.4zM306.7,570.4l3.2,5.6h-6.4zM309.7,571.9l3.2,5.6h-6.4zM311.8,573.0l3.2,5.6h-6.4zM303.7,576.0l3.2,5.6h-6.4zM306.2,578.0l3.2,5.6h-6.4zM301.6,580.0l3.2,5.6h-6.4zM304.7,579.5l3.2,5.6h-6.4zM300.6,583.1l3.2,5.6h-6.4zM307.7,584.1l3.2,5.6h-6.4zM296.6,588.7l3.2,5.6h-6.4zM302.2,588.7l3.2,5.6h-6.4z"/>
<g stroke="#333" stroke-width="0.8" fill="none">
<path d="M46.4,418V781.9H321"/>
<line x1="41.6" y1="420" x2="46.4" y2="420"/>
<line x1="41.6" y1="486.2" x2="46.4" y2="486.2"/>
<line x1="41.6" y1="552.4" x2="46.4" y2="552.4"/>
<line x1="41.6" y1="618.6" x2="46.4" y2="618.6"/>
<line x1="41.6" y1="684.8" x2="46.4" y2="684.8"/>
<line x1="41.6" y1="751.2" x2="46.4" y2="751.2"/>
<line x1="67.3" y1="781.9" x2="67.3" y2="787.8"/>
<line x1="127.2" y1="781.9" x2="127.2" y2="787.8"/>
<line x1="186.6" y1="781.9" x2="186.6" y2="787.8"/>
<line x1="246" y1="781.9" x2="246" y2="787.8"/>
<line x1="305.4" y1="781.9" x2="305.4" y2="787.8"/>
</g>
<g font-size="9.4" text-anchor="middle" fill="#111">
<text x="68.3" y="797.8">−0.15</text>
<text x="128.2" y="797.8">−0.10</text>
<text x="187.6" y="797.8">−0.05</text>
<text x="247" y="797.8">0.00</text>
<text x="306.4" y="797.8">0.05</text>
<text transform="translate(35.6,420) rotate(-90)">0.2</text>
<text transform="translate(35.6,486.2) rotate(-90)">0.1</text>
<text transform="translate(35.6,552.4) rotate(-90)">0.0</text>
<text transform="translate(35.6,618.6) rotate(-90)">−0.1</text>
<text transform="translate(35.6,684.8) rotate(-90)">−0.2</text>
<text transform="translate(35.6,751.2) rotate(-90)">−0.3</text>
<text x="205" y="815.5" font-size="9.8">PC1 (31.71%)</text>
<text transform="translate(20.5,606.5) rotate(-90)" font-size="9.8">PC2 (4.74%)</text>
</g>
<path fill="#1f48a8" d="M242.0,427.9l3.0,5.0h-6.0z"/>
<path fill="#e8231c" d="M242.0,451.9l3.0,5.0h-6.0z"/>
<text x="253.3" y="433" font-size="9.8">Northern group</text>
<text x="253.3" y="457" font-size="9.8">Southern group</text>
</g>
<!-- ===== demographic model panel ===== -->
<g id="model">
  <defs>
    <linearGradient id="arrTop" x1="1" y1="0" x2="0" y2="0">
      <stop offset="0" stop-color="#858585"/><stop offset="1" stop-color="#b4b4b4"/>
    </linearGradient>
    <linearGradient id="arrBot" x1="0" y1="0" x2="1" y2="0">
      <stop offset="0" stop-color="#858585"/><stop offset="1" stop-color="#b4b4b4"/>
    </linearGradient>
  </defs>
  <!-- ancestor -->
  <rect x="809.5" y="58" width="180" height="61" fill="#9bb88f"/>
  <!-- north -->
  <rect x="718.5" y="119" width="138.5" height="57.5" fill="#2a62b0"/>
  <rect x="740.5" y="176" width="102" height="120" fill="#2a62b0"/>
  <polygon points="740.5,295.5 842.5,295.5 876.5,399.5 706.5,399.5" fill="#2a62b0"/>
  <!-- south -->
  <rect x="936" y="119" width="139" height="59.5" fill="#e8201a"/>
  <rect x="955.5" y="178" width="104" height="118" fill="#e8201a"/>
  <polygon points="955.5,295.5 1059.5,295.5 1092,399.5 923,399.5" fill="#e8201a"/>
  <!-- dashed time lines -->
  <g stroke="#4472c4" stroke-width="1.5" stroke-dasharray="3.5 1.5" fill="none">
    <line x1="690" y1="119" x2="1134" y2="119"/>
    <line x1="690" y1="176.5" x2="1134" y2="176.5"/>
    <line x1="690" y1="295.7" x2="1134" y2="295.7"/>
  </g>
  <!-- migration arrows -->
  <path d="M949.9,216.5 C949.6,201.5 933.6,184.7 899.5,184.7 C885,184.7 866,189 855.7,196.1 C851,199.8 848,203.3 846,206.8 L842.3,209.2 L847.7,217 L856.2,209.2 L854.1,209.2 C854.8,206.2 857,203.6 859.5,201.5 C866,194.6 880,187 899.5,185.7 C924.4,186.4 941.4,201.5 942.1,216.5 Z" fill="url(#arrTop)"/>
  <path d="M845.1,237.1 C845.7,252.6 864.1,268.9 895.5,268.9 C912,268.9 930,263.2 937.9,258.3 C943,254.6 946.5,250.6 948.6,246.5 L953.5,244.3 L945.9,237.1 L936.8,244.3 L940,246.5 C938,250.6 934.5,254.6 930.4,257.7 C922,263.4 908,267.5 895.5,267.9 C869.3,267.4 854.3,253.9 852.9,237.1 Z" fill="url(#arrBot)"/>
  <!-- labels -->
  <g text-anchor="middle">
    <text x="899.5" y="87.5" font-size="21.2">Ancestor</text>
    <text x="899" y="108" font-size="14.5">Ne=6.38×10<tspan font-size="8.5" dy="-4.5">4</tspan></text>
    <text x="781" y="152.5" font-size="14.5">Ne=3.02×10<tspan font-size="8.5" dy="-4.5">4</tspan></text>
    <text x="1001.5" y="152.5" font-size="14.5">Ne=7.78×10<tspan font-size="8.5" dy="-4.5">4</tspan></text>
    <text x="790.5" y="234.5" font-size="14.5">Ne=1.86×10<tspan font-size="8.5" dy="-4.5">4</tspan></text>
    <text x="1006" y="231" font-size="14.5">Ne=9.44×10<tspan font-size="8.5" dy="-4.5">3</tspan></text>
    <text x="897" y="203.5" font-size="14.7">1.21×10<tspan font-size="8.5" dy="-4.5">-5</tspan></text>
    <text x="897" y="258.5" font-size="14.7">1.46×10<tspan font-size="8.5" dy="-4.5">-4</tspan></text>
    <text x="790.5" y="340.5" font-size="21.5">North group</text>
    <text x="1007" y="340" font-size="21.5">South group</text>
    <text x="790" y="389.5" font-size="14.5">Ne=4.79×10<tspan font-size="8.5" dy="-4.5">4</tspan></text>
    <text x="1006" y="389" font-size="14.5">Ne=1.93×10<tspan font-size="8.5" dy="-4.5">4</tspan></text>
  </g>
  <!-- time axis -->
  <line x1="1134.5" y1="38" x2="1134.5" y2="407" stroke="#000" stroke-width="3"/>
  <rect x="1130" y="405.3" width="10" height="3" fill="#000"/>
  <line x1="1120.5" y1="74.5" x2="1145" y2="64.5" stroke="#000" stroke-width="1.2"/>
  <line x1="1120.5" y1="84.5" x2="1145" y2="74.5" stroke="#000" stroke-width="1.2"/>
  <text x="1095" y="27" font-size="21.2">Time(years)</text>
  <text x="1147.5" y="127.5" font-size="22">8.63×10<tspan font-size="13.5" dy="-8">6</tspan></text>
  <text x="1147.5" y="184" font-size="22">3.21×10<tspan font-size="13.5" dy="-8">5</tspan></text>
  <text x="1149.5" y="303.5" font-size="22">1.04×10<tspan font-size="13.5" dy="-8">3</tspan></text>
  <text x="1154.5" y="407" font-size="21.2">Present</text>
</g>

<!-- ===== ancestry (structure) bar plot ===== -->
<g id="structure">
<rect x="548.5" y="422.5" width="562.70" height="325.0" fill="#18489e"/>
<rect x="1111.20" y="422.5" width="194.80" height="325.0" fill="#e8201a"/>
<rect x="548.5" y="422.2" width="562.70" height="0.6" fill="#d46a8a" opacity="0.7"/>
<line x1="552.64" y1="423.5" x2="552.64" y2="747.5" stroke="#3a62b4" stroke-width="0.6" opacity="0.35"/>
<line x1="573.33" y1="423.5" x2="573.33" y2="747.5" stroke="#3a62b4" stroke-width="0.6" opacity="0.35"/>
<line x1="577.46" y1="423.5" x2="577.46" y2="747.5" stroke="#3a62b4" stroke-width="0.6" opacity="0.35"/>
<line x1="589.88" y1="423.5" x2="589.88" y2="747.5" stroke="#3a62b4" stroke-width="0.6" opacity="0.35"/>
<line x1="594.01" y1="423.5" x2="594.01" y2="747.5" stroke="#3a62b4" stroke-width="0.6" opacity="0.35"/>
<line x1="622.98" y1="423.5" x2="622.98" y2="747.5" stroke="#3a62b4" stroke-width="0.6" opacity="0.35"/>
<line x1="651.94" y1="423.5" x2="651.94" y2="747.5" stroke="#3a62b4" stroke-width="0.6" opacity="0.35"/>
<line x1="664.35" y1="423.5" x2="664.35" y2="747.5" stroke="#3a62b4" stroke-width="0.6" opacity="0.35"/>
<line x1="668.49" y1="423.5" x2="668.49" y2="747.5" stroke="#3a62b4" stroke-width="0.6" opacity="0.35"/>
<line x1="726.41" y1="423.5" x2="726.41" y2="747.5" stroke="#3a62b4" stroke-width="0.6" opacity="0.35"/>
<line x1="730.55" y1="423.5" x2="730.55" y2="747.5" stroke="#3a62b4" stroke-width="0.6" opacity="0.35"/>
<line x1="734.69" y1="423.5" x2="734.69" y2="747.5" stroke="#3a62b4" stroke-width="0.6" opacity="0.35"/>
<line x1="755.38" y1="423.5" x2="755.38" y2="747.5" stroke="#3a62b4" stroke-width="0.6" opacity="0.35"/>
<line x1="809.16" y1="423.5" x2="809.16" y2="747.5" stroke="#3a62b4" stroke-width="0.6" opacity="0.35"/>
<line x1="838.12" y1="423.5" x2="838.12" y2="747.5" stroke="#3a62b4" stroke-width="0.6" opacity="0.35"/>
<line x1="854.67" y1="423.5" x2="854.67" y2="747.5" stroke="#3a62b4" stroke-width="0.6" opacity="0.35"/>
<line x1="858.81" y1="423.5" x2="858.81" y2="747.5" stroke="#3a62b4" stroke-width="0.6" opacity="0.35"/>
<line x1="871.23" y1="423.5" x2="871.23" y2="747.5" stroke="#3a62b4" stroke-width="0.6" opacity="0.35"/>
<line x1="887.78" y1="423.5" x2="887.78" y2="747.5" stroke="#3a62b4" stroke-width="0.6" opacity="0.35"/>
<line x1="891.91" y1="423.5" x2="891.91" y2="747.5" stroke="#3a62b4" stroke-width="0.6" opacity="0.35"/>
<line x1="904.33" y1="423.5" x2="904.33" y2="747.5" stroke="#3a62b4" stroke-width="0.6" opacity="0.35"/>
<line x1="916.74" y1="423.5" x2="916.74" y2="747.5" stroke="#3a62b4" stroke-width="0.6" opacity="0.35"/>
<line x1="925.01" y1="423.5" x2="925.01" y2="747.5" stroke="#3a62b4" stroke-width="0.6" opacity="0.35"/>
<line x1="949.84" y1="423.5" x2="949.84" y2="747.5" stroke="#3a62b4" stroke-width="0.6" opacity="0.35"/>
<line x1="953.98" y1="423.5" x2="953.98" y2="747.5" stroke="#3a62b4" stroke-width="0.6" opacity="0.35"/>
<line x1="962.25" y1="423.5" x2="962.25" y2="747.5" stroke="#3a62b4" stroke-width="0.6" opacity="0.35"/>
<line x1="966.39" y1="423.5" x2="966.39" y2="747.5" stroke="#3a62b4" stroke-width="0.6" opacity="0.35"/>
<line x1="982.94" y1="423.5" x2="982.94" y2="747.5" stroke="#3a62b4" stroke-width="0.6" opacity="0.35"/>
<line x1="987.08" y1="423.5" x2="987.08" y2="747.5" stroke="#3a62b4" stroke-width="0.6" opacity="0.35"/>
<line x1="995.35" y1="423.5" x2="995.35" y2="747.5" stroke="#3a62b4" stroke-width="0.6" opacity="0.35"/>
<line x1="1061.55" y1="423.5" x2="1061.55" y2="747.5" stroke="#3a62b4" stroke-width="0.6" opacity="0.35"/>
<line x1="1065.69" y1="423.5" x2="1065.69" y2="747.5" stroke="#3a62b4" stroke-width="0.6" opacity="0.35"/>
<line x1="1086.38" y1="423.5" x2="1086.38" y2="747.5" stroke="#3a62b4" stroke-width="0.6" opacity="0.35"/>
<line x1="1098.79" y1="423.5" x2="1098.79" y2="747.5" stroke="#3a62b4" stroke-width="0.6" opacity="0.35"/>
<line x1="1115.34" y1="423.5" x2="1115.34" y2="747.5" stroke="#f04a3c" stroke-width="0.6" opacity="0.35"/>
<line x1="1148.44" y1="423.5" x2="1148.44" y2="747.5" stroke="#f04a3c" stroke-width="0.6" opacity="0.35"/>
<line x1="1152.58" y1="423.5" x2="1152.58" y2="747.5" stroke="#f04a3c" stroke-width="0.6" opacity="0.35"/>
<line x1="1164.99" y1="423.5" x2="1164.99" y2="747.5" stroke="#f04a3c" stroke-width="0.6" opacity="0.35"/>
<line x1="1181.54" y1="423.5" x2="1181.54" y2="747.5" stroke="#f04a3c" stroke-width="0.6" opacity="0.35"/>
<line x1="1189.81" y1="423.5" x2="1189.81" y2="747.5" stroke="#f04a3c" stroke-width="0.6" opacity="0.35"/>
<line x1="1202.22" y1="423.5" x2="1202.22" y2="747.5" stroke="#f04a3c" stroke-width="0.6" opacity="0.35"/>
<line x1="1218.78" y1="423.5" x2="1218.78" y2="747.5" stroke="#f04a3c" stroke-width="0.6" opacity="0.35"/>
<line x1="1231.19" y1="423.5" x2="1231.19" y2="747.5" stroke="#f04a3c" stroke-width="0.6" opacity="0.35"/>
<line x1="1235.33" y1="423.5" x2="1235.33" y2="747.5" stroke="#f04a3c" stroke-width="0.6" opacity="0.35"/>
<line x1="1247.74" y1="423.5" x2="1247.74" y2="747.5" stroke="#f04a3c" stroke-width="0.6" opacity="0.35"/>
<line x1="1251.88" y1="423.5" x2="1251.88" y2="747.5" stroke="#f04a3c" stroke-width="0.6" opacity="0.35"/>
<line x1="1264.29" y1="423.5" x2="1264.29" y2="747.5" stroke="#f04a3c" stroke-width="0.6" opacity="0.35"/>
<line x1="1268.43" y1="423.5" x2="1268.43" y2="747.5" stroke="#f04a3c" stroke-width="0.6" opacity="0.35"/>
<line x1="1272.56" y1="423.5" x2="1272.56" y2="747.5" stroke="#f04a3c" stroke-width="0.6" opacity="0.35"/>
<line x1="1293.25" y1="423.5" x2="1293.25" y2="747.5" stroke="#f04a3c" stroke-width="0.6" opacity="0.35"/>
<line x1="1297.39" y1="423.5" x2="1297.39" y2="747.5" stroke="#f04a3c" stroke-width="0.6" opacity="0.35"/>
<path d="M747.10,422.5V424.5H751.24V422.5H755.38V422.5H759.51V422.5H763.65V422.5H767.79V422.5H771.93V422.5H776.06V422.5H780.20V422.5Z" fill="#e8201a"/>
<path d="M813.30,422.5V422.5H817.44V422.5H821.58V422.5H825.71V422.5H829.85V422.5H833.99V422.5H838.12V427.5H842.26V422.5H846.40V422.5Z" fill="#e8201a"/>
<path d="M846.40,422.5V422.5H850.54V422.5H854.68V422.5H858.81V422.5H862.95V422.5H867.09V422.5H871.23V424.5H875.36V423.5H879.50V422.5Z" fill="#e8201a"/>
<path d="M879.50,422.5V436.5H883.64V433.5H887.78V431.5H891.91V429.5H896.05V428.5H900.19V426.5H904.33V424.5H908.46V423.3H912.60V422.5Z" fill="#e8201a"/>
<path d="M945.70,422.5V422.5H949.84V422.5H953.98V422.5H958.11V422.5H962.25V422.5H966.39V422.5H970.53V422.5H974.66V422.5H978.80V422.5Z" fill="#e8201a"/>
<path d="M978.80,422.5V422.5H982.94V422.5H987.08V422.5H991.21V422.5H995.35V422.5H999.49V422.5H1003.62V422.5H1007.76V422.5H1011.90V422.5Z" fill="#e8201a"/>
<path d="M1011.90,422.5V469.5H1016.04V469.5H1020.18V457.5H1024.31V455.0H1028.45V451.0H1032.59V449.5H1036.73V447.0H1040.86V425.1H1045.00V422.5Z" fill="#e8201a"/>
<path d="M1045.00,422.5V436.0H1049.14V430.5H1053.28V427.5H1057.41V427.5H1061.55V426.0H1065.69V424.5H1069.83V423.5H1073.96V422.5H1078.10V422.5Z" fill="#e8201a"/>
<path d="M1078.10,422.5V425.5H1082.24V424.5H1086.38V422.5H1090.51V422.5H1094.65V422.5H1098.79V422.5H1102.92V422.5H1107.06V422.5H1111.20V422.5Z" fill="#e8201a"/>
<rect x="946.8" y="422.5" width="4" height="7.5" fill="#e8201a"/>
<rect x="979.6" y="422.5" width="4" height="4" fill="#e8201a"/>
<rect x="983.7" y="422.5" width="4" height="2" fill="#e8201a"/>
<path d="M1210.50,747.5V710.9H1214.64V709.8H1218.78V708.1H1222.91V701.3H1227.05V701.3H1231.19V698.1H1235.33V673H1239.46V663.9H1243.60V747.5Z" fill="#18489e"/>
<rect x="1273.2" y="745.2" width="3.6" height="2.3" fill="#18489e"/>
<line x1="581.60" y1="422.5" x2="581.60" y2="747.5" stroke="#0e3488" stroke-width="0.9"/>
<line x1="614.70" y1="422.5" x2="614.70" y2="747.5" stroke="#0e3488" stroke-width="0.9"/>
<line x1="647.80" y1="422.5" x2="647.80" y2="747.5" stroke="#0e3488" stroke-width="0.9"/>
<line x1="680.90" y1="422.5" x2="680.90" y2="747.5" stroke="#0e3488" stroke-width="0.9"/>
<line x1="714.00" y1="422.5" x2="714.00" y2="747.5" stroke="#0e3488" stroke-width="0.9"/>
<line x1="747.10" y1="422.5" x2="747.10" y2="747.5" stroke="#0a0a14" stroke-width="1"/>
<line x1="780.20" y1="422.5" x2="780.20" y2="747.5" stroke="#0e3488" stroke-width="0.9"/>
<line x1="813.30" y1="422.5" x2="813.30" y2="747.5" stroke="#0e3488" stroke-width="0.9"/>
<line x1="846.40" y1="422.5" x2="846.40" y2="747.5" stroke="#0e3488" stroke-width="0.9"/>
<line x1="879.50" y1="422.5" x2="879.50" y2="747.5" stroke="#0a0a14" stroke-width="1"/>
<line x1="912.60" y1="422.5" x2="912.60" y2="747.5" stroke="#0a0a14" stroke-width="1"/>
<line x1="945.70" y1="422.5" x2="945.70" y2="747.5" stroke="#0e3488" stroke-width="0.9"/>
<line x1="978.80" y1="422.5" x2="978.80" y2="747.5" stroke="#0e3488" stroke-width="0.9"/>
<line x1="1011.90" y1="422.5" x2="1011.90" y2="747.5" stroke="#0e3488" stroke-width="0.9"/>
<line x1="1045.00" y1="422.5" x2="1045.00" y2="747.5" stroke="#0a0a14" stroke-width="1"/>
<line x1="1078.10" y1="422.5" x2="1078.10" y2="747.5" stroke="#0a0a14" stroke-width="1"/>
<line x1="1111.20" y1="422.5" x2="1111.20" y2="747.5" stroke="#0a0a14" stroke-width="1"/>
<line x1="1144.30" y1="422.5" x2="1144.30" y2="747.5" stroke="#0a0a14" stroke-width="1"/>
<line x1="1177.40" y1="422.5" x2="1177.40" y2="747.5" stroke="#0a0a14" stroke-width="1"/>
<line x1="1210.50" y1="422.5" x2="1210.50" y2="747.5" stroke="#0a0a14" stroke-width="1"/>
<line x1="1243.60" y1="422.5" x2="1243.60" y2="747.5" stroke="#0a0a14" stroke-width="1"/>
<line x1="1276.70" y1="422.5" x2="1276.70" y2="747.5" stroke="#0a0a14" stroke-width="1"/>
<g stroke="#000" stroke-width="1.3" fill="none">
<line x1="535.8" y1="421.9" x2="535.8" y2="748.1"/>
<line x1="520.2" y1="422.5" x2="536.4" y2="422.5"/>
<line x1="520.2" y1="487.5" x2="536.4" y2="487.5"/>
<line x1="520.2" y1="552.5" x2="536.4" y2="552.5"/>
<line x1="520.2" y1="617.5" x2="536.4" y2="617.5"/>
<line x1="520.2" y1="682.5" x2="536.4" y2="682.5"/>
<line x1="520.2" y1="747.5" x2="536.4" y2="747.5"/>
</g>
<text transform="translate(500.5,423.9) rotate(-90) scale(0.935,1)" text-anchor="middle" font-size="25.5">1.0</text>
<text transform="translate(500.5,488.9) rotate(-90) scale(0.935,1)" text-anchor="middle" font-size="25.5">0.8</text>
<text transform="translate(500.5,553.9) rotate(-90) scale(0.935,1)" text-anchor="middle" font-size="25.5">0.6</text>
<text transform="translate(500.5,618.9) rotate(-90) scale(0.935,1)" text-anchor="middle" font-size="25.5">0.4</text>
<text transform="translate(500.5,683.9) rotate(-90) scale(0.935,1)" text-anchor="middle" font-size="25.5">0.2</text>
<text transform="translate(500.5,748.9) rotate(-90) scale(0.935,1)" text-anchor="middle" font-size="25.5">0.0</text>
<text transform="translate(441,590) rotate(-90)" text-anchor="middle" font-size="25.5">Ancestry</text>
<text x="931" y="830" text-anchor="middle" font-size="24.5">Individual</text>
<g font-size="12" text-anchor="middle">
<text x="563.2" y="763">QL</text>
<text x="596.4" y="763">MY</text>
<text x="629.5" y="763">TJ</text>
<text x="662.6" y="763">XHZ</text>
<text x="695.7" y="763">GH</text>
<text x="728.8" y="763">GD</text>
<text x="761.9" y="763">XH</text>
<text x="795.0" y="763">TR</text>
<text x="828.1" y="763">HZ</text>
<text x="861.2" y="763">QML</text>
<text x="894.2" y="763">ZQ</text>
<text x="927.4" y="763">DR</text>
<text x="960.5" y="763">ZD</text>
<text x="993.6" y="763">YS</text>
<text x="1026.7" y="763">JD</text>
<text x="1059.8" y="763">XLX</text>
<text x="1092.9" y="763">SD</text>
<text x="1126.0" y="763">DX</text>
<text x="1159.0" y="763">LJZ</text>
<text x="1192.2" y="763">MLS</text>
<text x="1225.3" y="763">BS</text>
<text x="1258.4" y="763">LZ</text>
<text x="1291.5" y="763">YD</text>
</g>
</g>
</svg>
</body></html>
